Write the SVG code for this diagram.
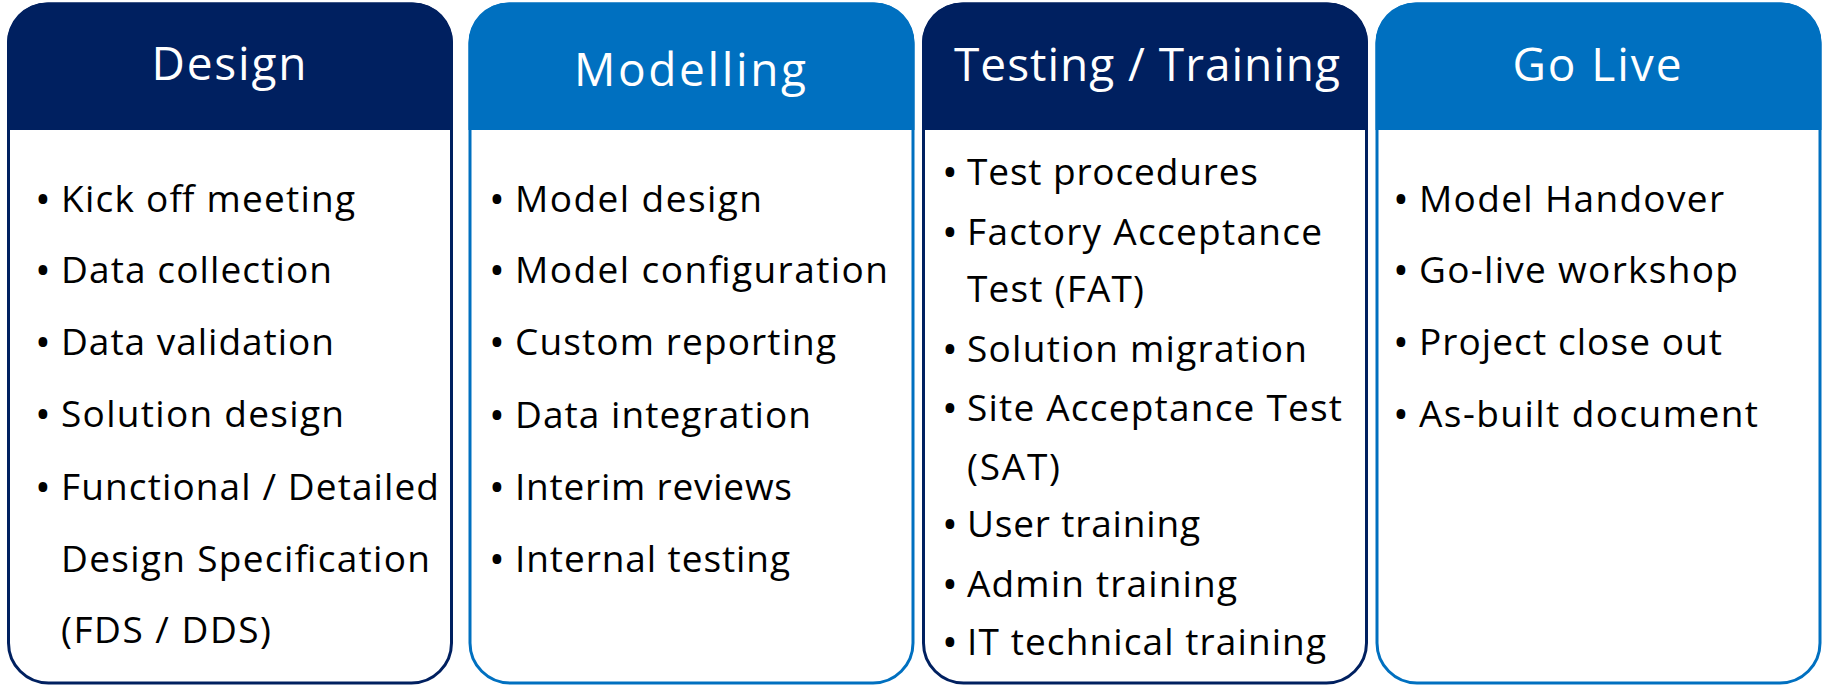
<svg xmlns="http://www.w3.org/2000/svg" width="1827" height="685" viewBox="0 0 1827 685">
<style>
.body{fill:#fff;stroke-width:3}
.navy .body{stroke:#002060}
.blue .body{stroke:#0070C0}
.navy .hdr{fill:#002060}
.blue .hdr{fill:#0070C0}
.title{font-family:"Open Sans","Noto Sans",sans-serif;font-size:46px;fill:#fff;text-anchor:middle}
.item text{font-family:"Open Sans","Noto Sans",sans-serif;font-size:37px;fill:#000}
.item text.b{font-size:42px;text-anchor:middle}
</style>
<rect width="1827" height="685" fill="#fff"/>
<g id="design" class="navy">
<rect class="body" x="8.5" y="4" width="443" height="679" rx="40"/>
<path class="hdr" d="M7,130 V44 A40,40 0 0 1 47,2.5 H413 A40,40 0 0 1 453,44 V130 Z"/>
<text class="title" x="229" y="80" textLength="155" lengthAdjust="spacing">Design</text>
<g class="item">
<text class="b" x="43" y="214">•</text><text x="61" y="212" textLength="294" lengthAdjust="spacing">Kick off meeting</text>
<text class="b" x="43" y="285">•</text><text x="61" y="283" textLength="271" lengthAdjust="spacing">Data collection</text>
<text class="b" x="43" y="357">•</text><text x="61" y="355" textLength="273" lengthAdjust="spacing">Data validation</text>
<text class="b" x="43" y="429">•</text><text x="61" y="427" textLength="283" lengthAdjust="spacing">Solution design</text>
<text class="b" x="43" y="502">•</text><text x="61" y="500" textLength="378" lengthAdjust="spacing">Functional / Detailed</text>
<text x="61" y="572" textLength="369" lengthAdjust="spacing">Design Specification</text>
<text x="61" y="643" textLength="210" lengthAdjust="spacing">(FDS / DDS)</text>
</g>
</g>
<g id="modelling" class="blue">
<rect class="body" x="470" y="4" width="443" height="679" rx="40"/>
<path class="hdr" d="M468.5,130 V44 A40,40 0 0 1 508.5,2.5 H874.5 A40,40 0 0 1 914.5,44 V130 Z"/>
<text class="title" x="690" y="86" textLength="232" lengthAdjust="spacing">Modelling</text>
<g class="item">
<text class="b" x="497" y="214">•</text><text x="515" y="212" textLength="247" lengthAdjust="spacing">Model design</text>
<text class="b" x="497" y="285">•</text><text x="515" y="283" textLength="373" lengthAdjust="spacing">Model configuration</text>
<text class="b" x="497" y="357">•</text><text x="515" y="355" textLength="321" lengthAdjust="spacing">Custom reporting</text>
<text class="b" x="497" y="430">•</text><text x="515" y="428" textLength="296" lengthAdjust="spacing">Data integration</text>
<text class="b" x="497" y="502">•</text><text x="515" y="500" textLength="277" lengthAdjust="spacing">Interim reviews</text>
<text class="b" x="497" y="574">•</text><text x="515" y="572" textLength="275" lengthAdjust="spacing">Internal testing</text>
</g>
</g>
<g id="testing" class="navy">
<rect class="body" x="923.5" y="4" width="443" height="679" rx="40"/>
<path class="hdr" d="M922,130 V44 A40,40 0 0 1 962,2.5 H1328 A40,40 0 0 1 1368,44 V130 Z"/>
<text class="title" x="1147" y="81" textLength="386" lengthAdjust="spacing">Testing / Training</text>
<g class="item">
<text class="b" x="950" y="187">•</text><text x="967" y="185" textLength="291" lengthAdjust="spacing">Test procedures</text>
<text class="b" x="950" y="247">•</text><text x="967" y="245" textLength="355" lengthAdjust="spacing">Factory Acceptance</text>
<text x="967" y="302" textLength="177" lengthAdjust="spacing">Test (FAT)</text>
<text class="b" x="950" y="364">•</text><text x="967" y="362" textLength="340" lengthAdjust="spacing">Solution migration</text>
<text class="b" x="950" y="423">•</text><text x="967" y="421" textLength="375" lengthAdjust="spacing">Site Acceptance Test</text>
<text x="967" y="480" textLength="93" lengthAdjust="spacing">(SAT)</text>
<text class="b" x="950" y="539">•</text><text x="967" y="537" textLength="233" lengthAdjust="spacing">User training</text>
<text class="b" x="950" y="599">•</text><text x="967" y="597" textLength="270" lengthAdjust="spacing">Admin training</text>
<text class="b" x="950" y="657">•</text><text x="967" y="655" textLength="359" lengthAdjust="spacing">IT technical training</text>
</g>
</g>
<g id="golive" class="blue">
<rect class="body" x="1377" y="4" width="443" height="679" rx="40"/>
<path class="hdr" d="M1375.5,130 V44 A40,40 0 0 1 1415.5,2.5 H1781.5 A40,40 0 0 1 1821.5,44 V130 Z"/>
<text class="title" x="1597" y="81" textLength="169" lengthAdjust="spacing">Go Live</text>
<g class="item">
<text class="b" x="1401" y="214">•</text><text x="1419" y="212" textLength="305" lengthAdjust="spacing">Model Handover</text>
<text class="b" x="1401" y="285">•</text><text x="1419" y="283" textLength="319" lengthAdjust="spacing">Go-live workshop</text>
<text class="b" x="1401" y="357">•</text><text x="1419" y="355" textLength="303" lengthAdjust="spacing">Project close out</text>
<text class="b" x="1401" y="429">•</text><text x="1419" y="427" textLength="339" lengthAdjust="spacing">As-built document</text>
</g>
</g>
<g id="connectors"/>
</svg>
